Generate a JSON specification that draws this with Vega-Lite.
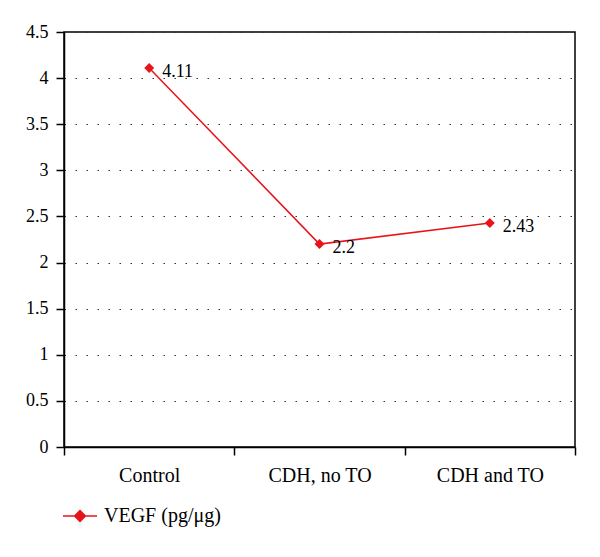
{
  "$schema": "https://vega.github.io/schema/vega-lite/v6.json",
  "autosize": {"type": "none"},
  "width": 511,
  "height": 415,
  "padding": {"left": 64, "top": 32, "right": 25, "bottom": 110},
  "background": "white",
  "config": {
    "view": {"stroke": "black", "strokeWidth": 1.5},
    "axis": {"labelFont": "Liberation Serif", "labelColor": "black", "domainColor": "black", "tickColor": "black", "domainWidth": 1.5, "tickWidth": 1.5}
  },
  "data": {"values": [
    {"group": "Control", "value": 4.11, "series": "VEGF (pg/μg)"},
    {"group": "CDH, no TO", "value": 2.2, "series": "VEGF (pg/μg)"},
    {"group": "CDH and TO", "value": 2.43, "series": "VEGF (pg/μg)"}
  ]},
  "encoding": {
    "x": {"field": "group", "type": "nominal", "sort": null,
      "scale": {"paddingInner": 0, "paddingOuter": 0},
      "axis": {"title": null, "labelFontSize": 20, "labelAngle": 0, "tickBand": "extent", "tickSize": 8, "labelPadding": 10, "grid": false}},
    "y": {"field": "value", "type": "quantitative",
      "scale": {"domain": [0, 4.5], "nice": false},
      "axis": {"title": null, "labelFontSize": 18, "values": [0, 0.5, 1, 1.5, 2, 2.5, 3, 3.5, 4, 4.5], "format": "~g", "tickSize": 8, "labelPadding": 8,
        "grid": true, "gridColor": "#333333", "gridDash": [1.5, 9.5], "gridWidth": 1.2}}
  },
  "layer": [
    {"mark": {"type": "line", "color": "#e8141b", "strokeWidth": 1.5},
     "encoding": {}},
    {"mark": {"type": "point", "shape": "diamond", "filled": true, "size": 100, "opacity": 1},
     "encoding": {
       "color": {"field": "series", "type": "nominal", "scale": {"range": ["#e8141b"]},
         "legend": {"title": null, "orient": "none", "legendX": -2, "legendY": 466,
           "symbolType": "M-1,0H1M0,-0.32L0.32,0L0,0.32L-0.32,0Z", "symbolSize": 1156, "symbolStrokeWidth": 1.5,
           "symbolStrokeColor": "#e8141b", "symbolFillColor": "#e8141b", "labelFontSize": 20, "labelFont": "Liberation Serif", "labelColor": "black", "labelOffset": 6, "padding": 0}}
     }},
    {"mark": {"type": "text", "align": "left", "baseline": "middle", "dx": 13, "dy": 4, "fontSize": 18, "font": "Liberation Serif", "color": "black"},
     "encoding": {"text": {"field": "value", "type": "quantitative"}}}
  ]
}
